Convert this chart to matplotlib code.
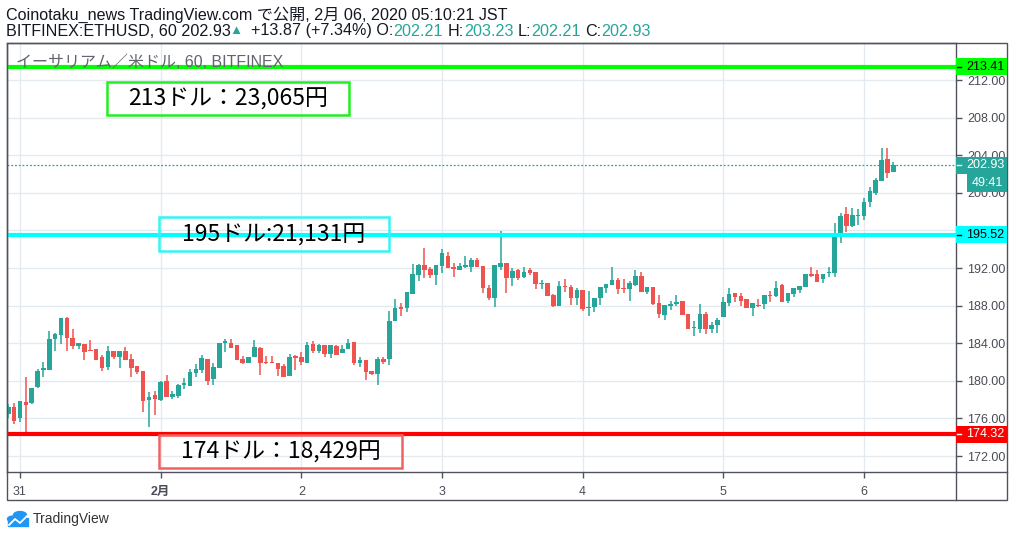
import matplotlib
matplotlib.use('Agg')
import matplotlib.pyplot as plt
import matplotlib.transforms as mtransforms
from matplotlib.patches import Rectangle, Circle, Polygon
from matplotlib.lines import Line2D
import numpy as np
import pandas as pd

plt.rcParams['font.family'] = ['Liberation Sans', 'Noto Sans CJK JP', 'DejaVu Sans']

# hourly candles, BITFINEX ETHUSD, 2020-01-30 22:00 .. 2020-02-06 05:00 (JST)
opens = [176.5, 177.2, 176.0, 177.7, 177.6, 179.3, 181.1, 181.2, 184.5, 184.9,
         186.7, 184.6, 183.7, 183.9, 183.3, 183.4, 182.5, 181.5, 183.2, 182.5,
         183.2, 182.3, 181.6, 181.05, 178.0, 178.5, 177.96, 180.0, 178.3, 178.4,
         179.55, 179.45, 180.87, 181.2, 182.3, 180.2, 181.4, 184.0, 184.06, 183.8,
         182.3, 181.93, 182.5, 183.5, 182.0, 181.98, 181.9, 181.6, 180.55, 182.64,
         182.5, 181.9, 183.9, 183.17, 183.8, 182.9, 183.7, 182.99, 183.4, 184.1,
         181.9, 182.2, 181.0, 180.76, 182.3, 182.3, 186.4, 187.85, 187.7, 189.23,
         191.25, 192.3, 191.9, 191.25, 192.24, 193.27, 192.1, 191.82, 192.1, 192.14,
         192.88, 192.2, 189.9, 188.84, 192.14, 192.5, 190.9, 191.78, 191.0, 191.78,
         191.57, 190.26, 190.4, 189.1, 188.0, 190.08, 189.94, 188.84, 189.66, 187.73,
         187.85, 188.84, 189.9, 190.19, 190.72, 189.87, 189.76, 190.19, 191.15, 189.48,
         190.01, 188.27, 187.03, 188.0, 188.13, 188.48, 187.1, 185.62, 185.55, 187.1,
         185.55, 185.97, 186.83, 188.31, 189.34, 189.02, 188.7, 187.78, 188.1, 188.13,
         189.1, 189.06, 190.15, 188.45, 189.27, 189.7, 190.02, 191.36, 191.36, 190.83,
         191.43, 191.5, 195.33, 197.75, 196.51, 197.5, 197.54, 199.02, 199.95, 201.29,
         203.6, 202.21]
highs = [177.5, 177.6, 177.9, 180.4, 179.2, 181.3, 182.0, 185.3, 185.1, 186.7,
         186.8, 185.5, 184.0, 183.9, 184.3, 183.4, 182.8, 183.7, 183.2, 183.2,
         183.6, 182.9, 181.6, 181.05, 178.85, 178.9, 179.98, 180.6, 178.9, 179.7,
         180.3, 181.26, 181.75, 182.8, 182.3, 181.9, 184.0, 184.45, 184.45, 183.8,
         182.6, 182.5, 184.3, 183.6, 182.6, 182.6, 181.9, 181.8, 182.9, 182.78,
         183.1, 184.1, 184.2, 183.9, 183.8, 183.8, 183.85, 183.8, 184.4, 184.1,
         182.5, 182.2, 181.0, 182.5, 182.5, 187.46, 188.7, 188.3, 189.5, 192.42,
         192.42, 194.16, 192.14, 192.3, 194.0, 193.73, 192.56, 192.56, 193.27, 193.1,
         193.1, 192.2, 190.2, 192.3, 195.93, 192.5, 191.96, 191.9, 192.1, 192.0,
         191.57, 190.72, 190.4, 189.23, 190.65, 190.83, 190.19, 189.9, 189.66, 189.55,
         188.8, 189.98, 190.3, 192.1, 190.9, 190.83, 190.61, 191.78, 191.54, 189.98,
         190.01, 189.12, 188.06, 188.48, 189.12, 188.48, 187.1, 186.36, 188.17, 187.29,
         186.22, 186.68, 188.95, 189.87, 189.34, 189.38, 188.7, 188.28, 188.7, 189.13,
         189.55, 190.65, 190.3, 189.31, 189.87, 190.08, 191.36, 192.11, 191.8, 191.33,
         192.11, 196.76, 197.82, 198.46, 198.35, 198.28, 199.45, 200.62, 201.61, 204.77,
         204.77, 203.23]
lows = [176.0, 175.4, 175.6, 174.4, 177.5, 179.2, 180.4, 181.2, 183.2, 183.9,
        183.2, 183.4, 183.4, 182.2, 183.2, 182.2, 181.0, 181.1, 182.3, 181.4,
        182.2, 180.4, 180.7, 176.7, 175.1, 176.4, 177.85, 178.3, 178.1, 178.2,
        179.1, 179.45, 180.4, 180.8, 179.56, 179.56, 181.4, 183.1, 183.5, 182.25,
        181.8, 181.93, 182.5, 180.6, 181.8, 181.86, 180.55, 180.37, 180.55, 181.15,
        181.7, 181.86, 183.0, 183.0, 182.5, 182.4, 182.8, 182.99, 183.4, 181.7,
        181.5, 180.05, 180.6, 179.6, 181.8, 181.7, 186.4, 186.9, 187.35, 189.23,
        190.6, 190.97, 190.9, 190.2, 191.5, 192.03, 191.07, 191.75, 191.96, 191.6,
        192.14, 189.3, 188.56, 187.88, 191.75, 189.3, 190.1, 190.72, 190.9, 191.25,
        189.8, 189.73, 189.05, 187.88, 188.0, 189.48, 188.06, 188.06, 187.46, 186.89,
        187.35, 188.06, 189.37, 190.19, 189.27, 189.37, 188.52, 190.08, 189.48, 189.27,
        188.06, 186.71, 186.43, 187.5, 187.99, 186.99, 185.47, 184.8, 185.05, 184.95,
        185.05, 185.12, 186.83, 187.96, 188.38, 187.96, 187.78, 186.93, 187.89, 187.68,
        188.38, 188.95, 188.42, 188.24, 188.95, 189.38, 190.02, 191.08, 190.51, 190.44,
        191.01, 191.08, 194.7, 195.83, 196.33, 196.58, 197.11, 198.53, 199.77, 201.29,
        201.61, 202.21]
closes = [177.2, 175.7, 177.85, 177.4, 179.2, 181.0, 181.4, 184.4, 185.0, 186.7,
          184.6, 183.7, 184.0, 183.1, 183.2, 182.2, 181.4, 183.2, 182.5, 183.2,
          182.2, 181.4, 180.97, 177.85, 178.3, 178.1, 179.9, 178.3, 178.6, 179.55,
          179.8, 180.98, 181.26, 182.4, 180.0, 181.5, 184.0, 184.2, 183.5, 182.25,
          181.93, 182.5, 183.56, 181.9, 181.85, 181.9, 181.3, 180.45, 182.5, 182.46,
          182.0, 183.8, 183.17, 183.8, 182.9, 183.8, 182.8, 183.4, 184.0, 181.9,
          182.2, 180.97, 180.76, 182.3, 182.0, 186.36, 187.8, 187.6, 189.5, 191.36,
          192.3, 191.8, 191.25, 192.3, 193.6, 192.03, 191.93, 192.2, 192.3, 192.88,
          192.14, 189.83, 188.77, 192.3, 192.5, 190.9, 191.7, 190.9, 191.57, 191.43,
          190.3, 190.44, 189.05, 188.0, 190.05, 189.98, 188.84, 189.66, 187.64, 187.85,
          188.8, 189.98, 190.3, 190.72, 189.76, 189.76, 190.37, 191.15, 189.48, 189.98,
          188.2, 187.14, 188.06, 188.17, 188.38, 186.99, 185.47, 185.76, 187.1, 185.55,
          185.9, 186.47, 188.38, 189.24, 188.95, 188.52, 187.78, 188.28, 187.93, 189.13,
          189.02, 189.87, 188.42, 189.31, 189.87, 190.08, 191.36, 191.15, 190.51, 191.33,
          191.58, 195.4, 197.54, 196.51, 197.64, 197.57, 199.02, 200.2, 201.37, 203.49,
          202.14, 202.93]

start = pd.Timestamp('2020-01-30 22:00')
day_ticks = pd.date_range('2020-01-31', '2020-02-06', freq='D')
day_labels = ['31', '2月', '2', '3', '4', '5', '6']
price_ticks = [172, 176, 180, 184, 188, 192, 196, 200, 204, 208, 212]
hidden_ticks = [196]  # covered by the 195.52 tag in the original

levels = [213.41, 195.52, 174.32]
level_colors = ['#00ff00', '#00ffff', '#ff0000']
level_text_colors = ['black', 'black', 'white']
notes = ['213ドル：23,065円', '195ドル:21,131円', '174ドル：18,429円']
note_edges = ['#22ee22', '#33f5f5', '#f06262']
last_price = 202.93
countdown = '49:41'

UP = '#26a69a'
DOWN = '#ef5350'
FRAME = '#50535e'
GRID = '#e3ebf1'
W, H = 1014, 537


def fx(px):
    return px / W


def fy(py):
    return 1 - py / H


fig = plt.figure(figsize=(W / 100, H / 100), dpi=100)
fig.patch.set_facecolor('white')
ax = fig.add_axes([fx(6.5), fy(472), fx(956) - fx(6.5), fy(43) - fy(472)])

times = pd.date_range(start, periods=len(opens), freq='h')
x = np.asarray((times - day_ticks[0]) / pd.Timedelta('1h'), dtype=float)
o = np.array(opens)
c = np.array(closes)
hi = np.array(highs)
lo = np.array(lows)
up = c >= o
cols = np.where(up, UP, DOWN)

ax.vlines(x, lo, hi, colors=cols, lw=1.1, zorder=3)
body_bottom = np.minimum(o, c)
body_h = np.maximum(np.abs(c - o), 0.1)
ax.bar(x, body_h, bottom=body_bottom, width=0.78, color=cols, lw=0, zorder=4)

ax.set_xlim(-2.3, 159.7)
ax.set_ylim(170.3, 215.94)

xt = np.asarray((day_ticks - day_ticks[0]) / pd.Timedelta('1h'), dtype=float)
ax.set_xticks(xt)
ax.set_xticklabels(day_labels)
ax.set_yticks(price_ticks)
ax.set_yticklabels(['' if v in hidden_ticks else '%.2f' % v for v in price_ticks])
ax.yaxis.tick_right()
ax.grid(True, color=GRID, lw=1, zorder=0)
ax.set_axisbelow(True)
ax.tick_params(axis='y', length=4, width=1, color=FRAME, labelcolor='#4a4d57',
               labelsize=9, pad=4)
ax.tick_params(axis='x', length=4, width=1, color=FRAME, labelcolor='#4a4d57',
               labelsize=9, pad=6)
for lab in ax.get_xticklabels():
    if lab.get_text() == '2月':
        lab.set_fontweight('bold')
for sp in ax.spines.values():
    sp.set_color(FRAME)
    sp.set_linewidth(1)

# horizontal levels
for lv, col in zip(levels, level_colors):
    ax.axhline(lv, color=col, lw=3, zorder=5)
ax.axhline(last_price, color=UP, lw=0.9, ls=(0, (1.5, 1.5)), zorder=2)

# watermark, drawn over the green level
fig.text(fx(16), fy(62), 'イーサリアム／米ドル, 60, BITFINEX', fontsize=11.5,
         color='#62656f', va='center', ha='left', zorder=6)

# outer frame
fig.add_artist(Rectangle((fx(6.5), fy(500)), fx(1007) - fx(6.5), fy(43) - fy(500),
                         transform=fig.transFigure, fill=False, ec=FRAME, lw=1))
fig.add_artist(Line2D([fx(956), fx(956)], [fy(472), fy(500)], color=FRAME, lw=1))
fig.add_artist(Line2D([fx(956), fx(1007)], [fy(472), fy(472)], color=FRAME, lw=1))

# note boxes
note_boxes = [(107, 82, 349, 115), (159, 217, 389, 251), (159, 435, 402, 468)]
for (x0, y0, x1, y1), txt, ec in zip(note_boxes, notes, note_edges):
    fig.add_artist(Rectangle((fx(x0), fy(y1)), fx(x1) - fx(x0), fy(y0) - fy(y1),
                             transform=fig.transFigure, fill=False, ec=ec, lw=1.8,
                             zorder=7))
    fig.text(fx((x0 + x1) / 2), fy((y0 + y1) / 2 + 1), txt, fontsize=16.5,
             family=['Noto Sans CJK JP', 'DejaVu Sans'], ha='center', va='center',
             color='black', zorder=8)

# right-axis price labels
blend = mtransforms.blended_transform_factory(fig.transFigure, ax.transData)
box_h = 17 / 9.4


def price_tag(y, text, bg, fg, left=956):
    fig.add_artist(Rectangle((fx(left), y - box_h / 2), fx(1007) - fx(left), box_h,
                             transform=blend, color=bg, lw=0, clip_on=False, zorder=9))
    fig.add_artist(Line2D([fx(957), fx(961)], [y, y], transform=blend, color=fg,
                          lw=1, zorder=10))
    fig.text(fx(985.5), y, text, transform=blend, fontsize=9,
             color=fg, ha='center', va='center', zorder=10)


for lv, col, tc in zip(levels, level_colors, level_text_colors):
    price_tag(lv, '%.2f' % lv, col, tc)
price_tag(last_price, '%.2f' % last_price, UP, 'white')
fig.add_artist(Rectangle((fx(967), last_price - box_h * 1.05 - box_h / 2), fx(1007) - fx(967),
                         box_h * 1.05, transform=blend, color=UP, lw=0, zorder=9))
fig.text(fx(987), last_price - box_h * 1.05, countdown, transform=blend, fontsize=9,
         color='white', ha='center', va='center', zorder=10)

# header
HEAD = 11.6
fig.text(fx(6), fy(15), 'Coinotaku_news TradingView.com で公開, 2月 06, 2020 05:10:21 JST',
         fontsize=HEAD, color='#131722', va='center', ha='left')

line2 = ('BITFINEX:ETHUSD, 60 202.93', '▲', ' +13.87 (+7.34%) O:', '202.21', ' H:',
         '203.23', ' L:', '202.21', ' C:', '202.93')
line2_cols = ['#131722', UP, '#131722', UP, '#131722', UP, '#131722', UP, '#131722', UP]
renderer = fig.canvas.get_renderer()


def text_width(s):
    t = fig.text(0, 0, s, fontsize=HEAD)
    w = t.get_window_extent(renderer).width
    t.remove()
    return w


bar_w = text_width('|')
prefix = ''
for s, col in zip(line2, line2_cols):
    lead = prefix + (' ' if s.startswith(' ') else '')
    xpos = 6 + (text_width(lead + '|') - bar_w if lead else 0)
    if s == '▲':
        xpos -= 2
    fs = 9.5 if s == '▲' else HEAD
    fig.text(fx(xpos), fy(31), s.lstrip(' '), fontsize=fs, color=col, va='center', ha='left')
    prefix += s

# TradingView logo
fig.add_artist(Circle((fx(13), fy(519)), 5.5 / W, transform=fig.transFigure, color='#2196f3'))
fig.add_artist(Circle((fx(20), fy(515)), 6.5 / W, transform=fig.transFigure, color='#2196f3'))
fig.add_artist(Polygon([(fx(8), fy(526)), (fx(28), fy(526)), (fx(28), fy(518)), (fx(8), fy(518))],
                       closed=True, transform=fig.transFigure, color='#2196f3'))
fig.add_artist(Line2D([fx(9), fx(15), fx(20), fx(27)], [fy(525), fy(519), fy(523), fy(516)],
                      color='white', lw=1.3))
fig.text(fx(33), fy(519), 'TradingView', fontsize=10, color='#333333', va='center', ha='left')

fig.savefig('out.png', dpi=100)
